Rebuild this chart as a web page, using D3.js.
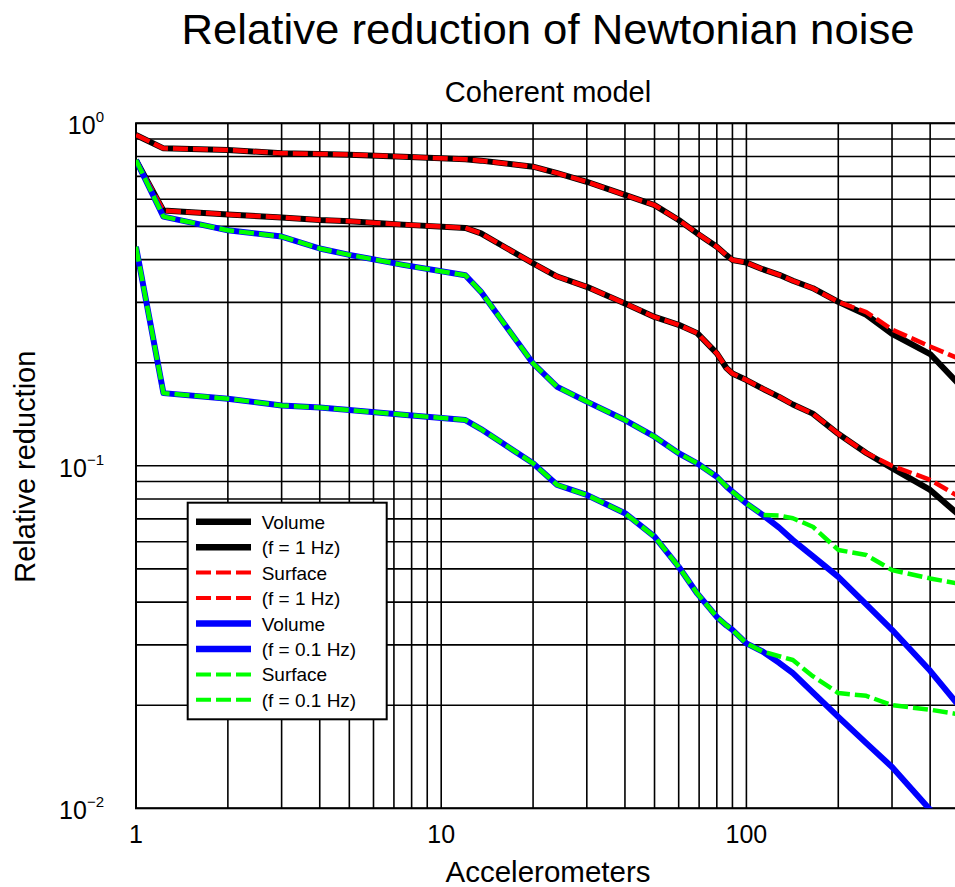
<!DOCTYPE html>
<html>
<head>
<meta charset="utf-8">
<script src="https://cdn.jsdelivr.net/npm/d3@7"></script>
<style>
  html, body { margin: 0; padding: 0; background: #fff; }
  svg { display: block; }
  text { font-family: "Liberation Sans", Arial, Helvetica, sans-serif; fill: #000; }
</style>
</head>
<body>
<div id="chart"></div>
<script>
// Number of accelerometers at which the reduction was evaluated
const accelerometers = [1, 1.23, 2, 3, 4, 5, 7.5, 12, 13.5, 20, 24, 30, 40, 50, 60, 69, 80, 86, 90, 100, 113, 128, 142, 165, 200, 247, 300, 400, 500];

// f = 1 Hz, volume (body) waves
const volume1HzUpper = [0.924, 0.845, 0.836, 0.818, 0.814, 0.810, 0.799, 0.785, 0.778, 0.747, 0.715, 0.675, 0.618, 0.577, 0.522, 0.477, 0.436, 0.412, 0.399, 0.392, 0.375, 0.361, 0.347, 0.330, 0.301, 0.276, 0.243, 0.212, 0.172];
const volume1HzLower = [0.781, 0.556, 0.542, 0.531, 0.522, 0.518, 0.506, 0.495, 0.477, 0.390, 0.357, 0.333, 0.298, 0.272, 0.258, 0.244, 0.213, 0.193, 0.186, 0.178, 0.168, 0.159, 0.151, 0.142, 0.124, 0.109, 0.0985, 0.085, 0.0715];
// f = 1 Hz, surface waves
const surface1HzUpper = [0.924, 0.845, 0.836, 0.818, 0.814, 0.810, 0.799, 0.785, 0.778, 0.747, 0.715, 0.675, 0.618, 0.577, 0.522, 0.477, 0.436, 0.412, 0.399, 0.392, 0.375, 0.361, 0.347, 0.330, 0.301, 0.281, 0.250, 0.223, 0.205];
const surface1HzLower = [0.781, 0.556, 0.542, 0.531, 0.522, 0.518, 0.506, 0.495, 0.477, 0.390, 0.357, 0.333, 0.298, 0.272, 0.258, 0.244, 0.213, 0.193, 0.186, 0.178, 0.168, 0.159, 0.151, 0.142, 0.124, 0.109, 0.100, 0.091, 0.081];
// f = 0.1 Hz, volume waves
const volume01HzUpper = [0.781, 0.534, 0.487, 0.467, 0.431, 0.413, 0.386, 0.360, 0.322, 0.199, 0.170, 0.154, 0.136, 0.1216, 0.1088, 0.1017, 0.0929, 0.087, 0.084, 0.0777, 0.0719, 0.066, 0.0607, 0.0545, 0.0474, 0.0394, 0.0332, 0.0252, 0.0198];
const volume01HzLower = [0.436, 0.163, 0.157, 0.150, 0.148, 0.1455, 0.141, 0.136, 0.128, 0.1017, 0.0879, 0.0822, 0.0727, 0.0621, 0.0507, 0.0424, 0.0362, 0.0342, 0.0332, 0.0303, 0.0287, 0.0266, 0.0248, 0.0218, 0.0185, 0.0155, 0.0132, 0.0099, 0.0078];
// f = 0.1 Hz, surface waves
const surface01HzUpper = [0.781, 0.534, 0.487, 0.467, 0.431, 0.413, 0.386, 0.360, 0.322, 0.199, 0.170, 0.154, 0.136, 0.1216, 0.1088, 0.1017, 0.0929, 0.087, 0.084, 0.0777, 0.0719, 0.0716, 0.0703, 0.0664, 0.0568, 0.0549, 0.0496, 0.0469, 0.0452];
const surface01HzLower = [0.436, 0.163, 0.157, 0.150, 0.148, 0.1455, 0.141, 0.136, 0.128, 0.1017, 0.0879, 0.0822, 0.0727, 0.0621, 0.0507, 0.0424, 0.0362, 0.0342, 0.0332, 0.0303, 0.0287, 0.0278, 0.0271, 0.0243, 0.0217, 0.0213, 0.0200, 0.0194, 0.0188];

// Axis ticks
const xTickValues = [1, 10, 100];
const xTickLabels = ["1", "10", "100"];
const yTickValues = [1, 0.1, 0.01];
const yTickExponents = ["0", "\u22121", "\u22122"];

// Legend entries (two text rows per style)
const legendLabels = ["Volume", "(f = 1 Hz)", "Surface", "(f = 1 Hz)", "Volume", "(f = 0.1 Hz)", "Surface", "(f = 0.1 Hz)"];

// Line styles
const styles = {
  volume1Hz:  { color: "#000000", width: 6,   dash: null },
  surface1Hz: { color: "#ff0000", width: 4.5, dash: "15,5" },
  volume01Hz: { color: "#0000ff", width: 6,   dash: null },
  surface01Hz:{ color: "#00ff00", width: 4.5, dash: "15,5" }
};
const legendStyles = ["volume1Hz", "volume1Hz", "surface1Hz", "surface1Hz", "volume01Hz", "volume01Hz", "surface01Hz", "surface01Hz"];

// Drawing order: solid volume curves below, dashed surface curves on top
const series = [
  { values: volume1HzUpper,  style: "volume1Hz" },
  { values: volume1HzLower,  style: "volume1Hz" },
  { values: surface1HzUpper, style: "surface1Hz" },
  { values: surface1HzLower, style: "surface1Hz" },
  { values: volume01HzUpper, style: "volume01Hz" },
  { values: volume01HzLower, style: "volume01Hz" },
  { values: surface01HzUpper, style: "surface01Hz" },
  { values: surface01HzLower, style: "surface01Hz" }
];

const W = 955, H = 887;
const plot = { left: 136, top: 123.3, bottom: 808.3, decade: 305.2 };

const svg = d3.select("#chart").append("svg")
  .attr("width", W).attr("height", H)
  .attr("viewBox", `0 0 ${W} ${H}`);

const x = d3.scaleLog().domain([1, 1000]).range([plot.left, plot.left + 3 * plot.decade]);
const y = d3.scaleLog().domain([0.01, 1]).range([plot.bottom, plot.top]);
const plotRight = x(1000);

svg.append("defs").append("clipPath").attr("id", "plot-clip")
  .append("rect")
  .attr("x", plot.left).attr("y", plot.top)
  .attr("width", plotRight - plot.left).attr("height", plot.bottom - plot.top);

// Grid (major and minor, all solid)
const grid = svg.append("g").attr("stroke", "#000").attr("stroke-width", 1.6);
grid.selectAll("line.v").data(x.ticks()).join("line")
  .attr("class", "v")
  .attr("x1", d => x(d)).attr("x2", d => x(d))
  .attr("y1", plot.top).attr("y2", plot.bottom);
grid.selectAll("line.h").data(y.ticks()).join("line")
  .attr("class", "h")
  .attr("x1", plot.left).attr("x2", plotRight)
  .attr("y1", d => y(d)).attr("y2", d => y(d));

// Frame
svg.append("rect")
  .attr("x", plot.left).attr("y", plot.top)
  .attr("width", plotRight - plot.left).attr("height", plot.bottom - plot.top)
  .attr("fill", "none").attr("stroke", "#000").attr("stroke-width", 2);

// Curves
const line = d3.line()
  .x((d, i) => x(accelerometers[i]))
  .y(d => y(d));

const curves = svg.append("g").attr("clip-path", "url(#plot-clip)");
series.forEach(s => {
  const st = styles[s.style];
  curves.append("path")
    .datum(s.values)
    .attr("d", line)
    .attr("fill", "none")
    .attr("stroke", st.color)
    .attr("stroke-width", st.width)
    .attr("stroke-linejoin", "round")
    .attr("stroke-dasharray", st.dash);
});

// X tick labels
svg.append("g").selectAll("text").data(xTickValues).join("text")
  .attr("x", d => x(d)).attr("y", 843)
  .attr("text-anchor", "middle")
  .attr("font-size", 25)
  .text((d, i) => xTickLabels[i]);

// Y tick labels (powers of ten)
const yl = svg.append("g").selectAll("text").data(yTickValues).join("text")
  .attr("x", 104)
  .attr("y", d => y(d) + 11)
  .attr("text-anchor", "end")
  .attr("font-size", 25);
yl.append("tspan").text("10");
yl.append("tspan").attr("dy", -12).attr("font-size", 15).text((d, i) => yTickExponents[i]);

// Titles
svg.append("text")
  .attr("x", 548).attr("y", 44)
  .attr("text-anchor", "middle")
  .attr("font-size", 43)
  .attr("textLength", 733).attr("lengthAdjust", "spacingAndGlyphs")
  .text("Relative reduction of Newtonian noise");

svg.append("text")
  .attr("x", 548).attr("y", 102)
  .attr("text-anchor", "middle")
  .attr("font-size", 29)
  .text("Coherent model");

svg.append("text")
  .attr("x", 548).attr("y", 882)
  .attr("text-anchor", "middle")
  .attr("font-size", 29.5)
  .text("Accelerometers");

svg.append("text")
  .attr("transform", "translate(35,466.7) rotate(-90)")
  .attr("text-anchor", "middle")
  .attr("font-size", 29)
  .text("Relative reduction");

// Legend
const legend = { x: 187.7, y: 502.7, w: 199, h: 216.6, rowStart: 521.7, rowStep: 25.45 };
const lg = svg.append("g");
lg.append("rect")
  .attr("x", legend.x).attr("y", legend.y)
  .attr("width", legend.w).attr("height", legend.h)
  .attr("fill", "#fff").attr("stroke", "#000").attr("stroke-width", 2);
const rows = lg.selectAll("g.row").data(legendLabels).join("g")
  .attr("class", "row")
  .attr("transform", (d, i) => `translate(0,${legend.rowStart + i * legend.rowStep})`);
rows.append("line")
  .attr("x1", 196).attr("x2", 251)
  .attr("y1", 0).attr("y2", 0)
  .attr("stroke", (d, i) => styles[legendStyles[i]].color)
  .attr("stroke-width", (d, i) => styles[legendStyles[i]].dash ? 4 : 6.5)
  .attr("stroke-dasharray", (d, i) => styles[legendStyles[i]].dash);
rows.append("text")
  .attr("x", 261.7).attr("y", 7)
  .attr("font-size", 19)
  .text(d => d);
</script>
</body>
</html>
